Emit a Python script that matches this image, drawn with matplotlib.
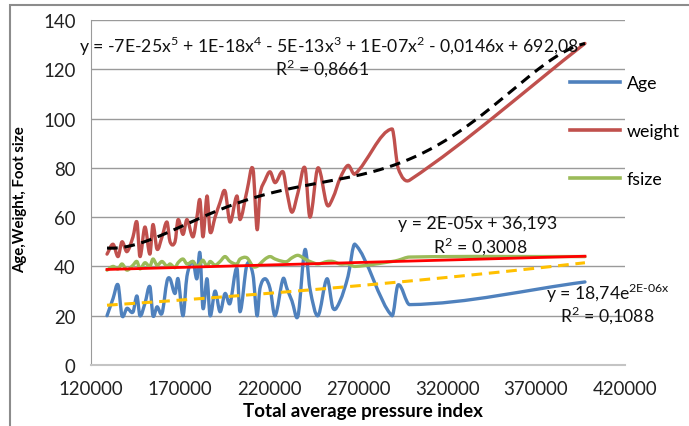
import numpy as np
import matplotlib
matplotlib.use('Agg')
import matplotlib.pyplot as plt
from matplotlib.path import Path
from matplotlib.patches import PathPatch, Rectangle
from matplotlib.lines import Line2D

plt.rcParams['font.family'] = ['Lato', 'DejaVu Sans']
plt.rcParams['mathtext.fontset'] = 'custom'
plt.rcParams['mathtext.rm'] = 'Lato'

# data
pressure = [129000, 132400, 135200, 137400, 140200, 143600, 145800, 147500, 150300, 153100,
            154800, 157100, 159900, 162700, 164400, 167200, 168900, 171700, 173900, 177300,
            179500, 181200, 182900, 185200, 186900, 189700, 192500, 195300, 198100, 202000,
            203700, 207600, 211000, 213300, 214900, 217800, 220600, 223400, 227900, 230100,
            232900, 236300, 240200, 243000, 247500, 252600, 256000, 259900, 264400, 268300,
            289100, 292500, 299000, 397500]
age = [20, 27, 32.5, 20, 23, 21.5, 28, 20, 25, 31.8,
       20, 23.6, 21, 34, 35, 29, 35, 20, 36, 42,
       35, 45.5, 23, 35, 20, 30, 21.6, 29, 25, 39.3,
       21.6, 40.7, 36.6, 20, 31, 35, 31, 20, 35, 31,
       26, 20, 46.8, 31, 20, 35, 23, 26, 36, 49,
       20, 32.5, 24.5, 33.7]
weight = [45, 49, 44, 50, 46, 52, 58, 44, 56, 45,
          57, 47, 52, 58, 50, 50, 59, 53, 59, 52,
          60, 67, 52, 68.6, 54, 60, 66, 70.6, 58, 68.6,
          59, 70.6, 79.5, 55, 69, 75, 78.4, 74, 78.4, 70,
          62, 70, 80, 60, 80, 65, 68, 75.7, 81, 77.5,
          95.8, 80, 75, 130.5]
fsize = [38.5, 40, 39, 41, 38.5, 40.5, 42, 39, 41.5, 40,
         43, 40.5, 42, 40, 41, 39.5, 41.5, 43, 41, 42,
         40, 41, 42.5, 40, 42, 40.5, 42, 44, 42, 41,
         43, 43.5, 40, 40, 41, 43, 44, 43, 42, 42,
         43.5, 44.5, 43, 42, 41, 42, 42, 41, 41, 40,
         42, 42.5, 43.8, 44]

# trendline coefficients as printed on the chart
fsize_linear = [2e-05, 36.193]
age_expo = [18.74, 2e-06]

series_names = ['Age', 'weight', 'fsize']
series_colors = ['#4F81BD', '#C0504D', '#9BBB59']
x_ticks = [120000, 170000, 220000, 270000, 320000, 370000, 420000]
y_ticks = [0, 20, 40, 60, 80, 100, 120, 140]

W, H = 689, 427


def px(x, y):
    return x / W, 1 - y / H


def smooth_path(xs, ys):
    # smoothed line: cubic bezier through every point, slopes from neighbours
    x = np.asarray(xs, dtype=float)
    y = np.asarray(ys, dtype=float)
    n = len(x)
    m = np.empty(n)
    m[1:-1] = (y[2:] - y[:-2]) / (x[2:] - x[:-2])
    m[0] = (y[1] - y[0]) / (x[1] - x[0])
    m[-1] = (y[-1] - y[-2]) / (x[-1] - x[-2])
    verts = [(x[0], y[0])]
    codes = [Path.MOVETO]
    for i in range(n - 1):
        h = (x[i + 1] - x[i]) / 3
        verts += [(x[i] + h, y[i] + m[i] * h), (x[i + 1] - h, y[i + 1] - m[i + 1] * h),
                  (x[i + 1], y[i + 1])]
        codes += [Path.CURVE4] * 3
    return Path(verts, codes)


fig = plt.figure(figsize=(W / 100, H / 100), dpi=100)
ax = fig.add_axes([91 / W, 61 / H, 534 / W, 345 / H])

for vals, color in zip([age, weight, fsize], series_colors):
    ax.add_patch(PathPatch(smooth_path(pressure, vals), fill=False, edgecolor=color,
                           lw=2.4, capstyle='round', joinstyle='round', zorder=3))

xs = np.array(pressure, dtype=float)
xt = np.linspace(xs.min(), xs.max(), 400)

# trendlines
poly = np.polyfit(xs / 1e5, weight, 5)
ax.plot(xt, np.polyval(poly, xt / 1e5), color='black', lw=2.2, ls=(0, (3.5, 2.2)), zorder=5)
ax.plot(xt, np.polyval(fsize_linear, xt), color='#FF0000', lw=2.0, zorder=5)
ax.plot(xt, age_expo[0] * np.exp(age_expo[1] * xt), color='#FFC000', lw=2.2,
        ls=(0, (3.5, 2.2)), zorder=5)

ax.set_xlim(120000, 420000)
ax.set_ylim(0, 140)
ax.set_xticks(x_ticks)
ax.set_yticks(y_ticks)
ax.tick_params(length=0, labelsize=13.4, colors='#222222', pad=11)
ax.grid(axis='y', color='#9A9A9A', lw=1)
ax.set_axisbelow(True)
for s in ['top', 'right']:
    ax.spines[s].set_visible(False)
ax.spines['left'].set_color('#9A9A9A')
ax.spines['bottom'].set_color('#C4C4C4')
ax.spines['bottom'].set_linewidth(1.5)

fig.text(*px(363, 412), 'Total average pressure index', ha='center', va='center',
         fontsize=13.5, fontweight='bold')
fig.text(*px(20, 200), 'Age,Weight, Foot size', ha='center', va='center', rotation=90,
         fontsize=10.8, fontweight='bold')

eq_kw = dict(ha='center', va='center', fontsize=12.7, color='#111111')
sup = lambda s: r'$^{\mathregular{%s}}$' % s
fig.text(*px(329, 46), 'y = -7E-25x' + sup('5') + ' + 1E-18x' + sup('4') + ' - 5E-13x' + sup('3')
         + ' + 1E-07x' + sup('2') + ' - 0,0146x + 692,08', **eq_kw)
fig.text(*px(322, 68), 'R' + sup('2') + ' = 0,8661', **eq_kw)
fig.text(*px(478, 224), 'y = 2E-05x + 36,193', **eq_kw)
fig.text(*px(480, 246), 'R' + sup('2') + ' = 0,3008', **eq_kw)
fig.text(*px(608, 293), 'y = 18,74e' + r'$^{\mathregular{2E\text{-}06x}}$', **eq_kw)
fig.text(*px(607, 315), 'R' + sup('2') + ' = 0,1088', **eq_kw)

handles = [Line2D([], [], color=c, lw=2.6) for c in series_colors]
fig.legend(handles, series_names, loc='upper left', bbox_to_anchor=px(561, 67),
           frameon=False, fontsize=12.8, handlelength=2.8, handletextpad=0.4,
           labelspacing=1.8, borderpad=0)

fig.add_artist(Rectangle(px(10, 500), 1.2, (500 - 6) / H, transform=fig.transFigure, fill=False,
                         edgecolor='#8C8C8C', lw=1.5))

fig.savefig('out.png', dpi=100)
